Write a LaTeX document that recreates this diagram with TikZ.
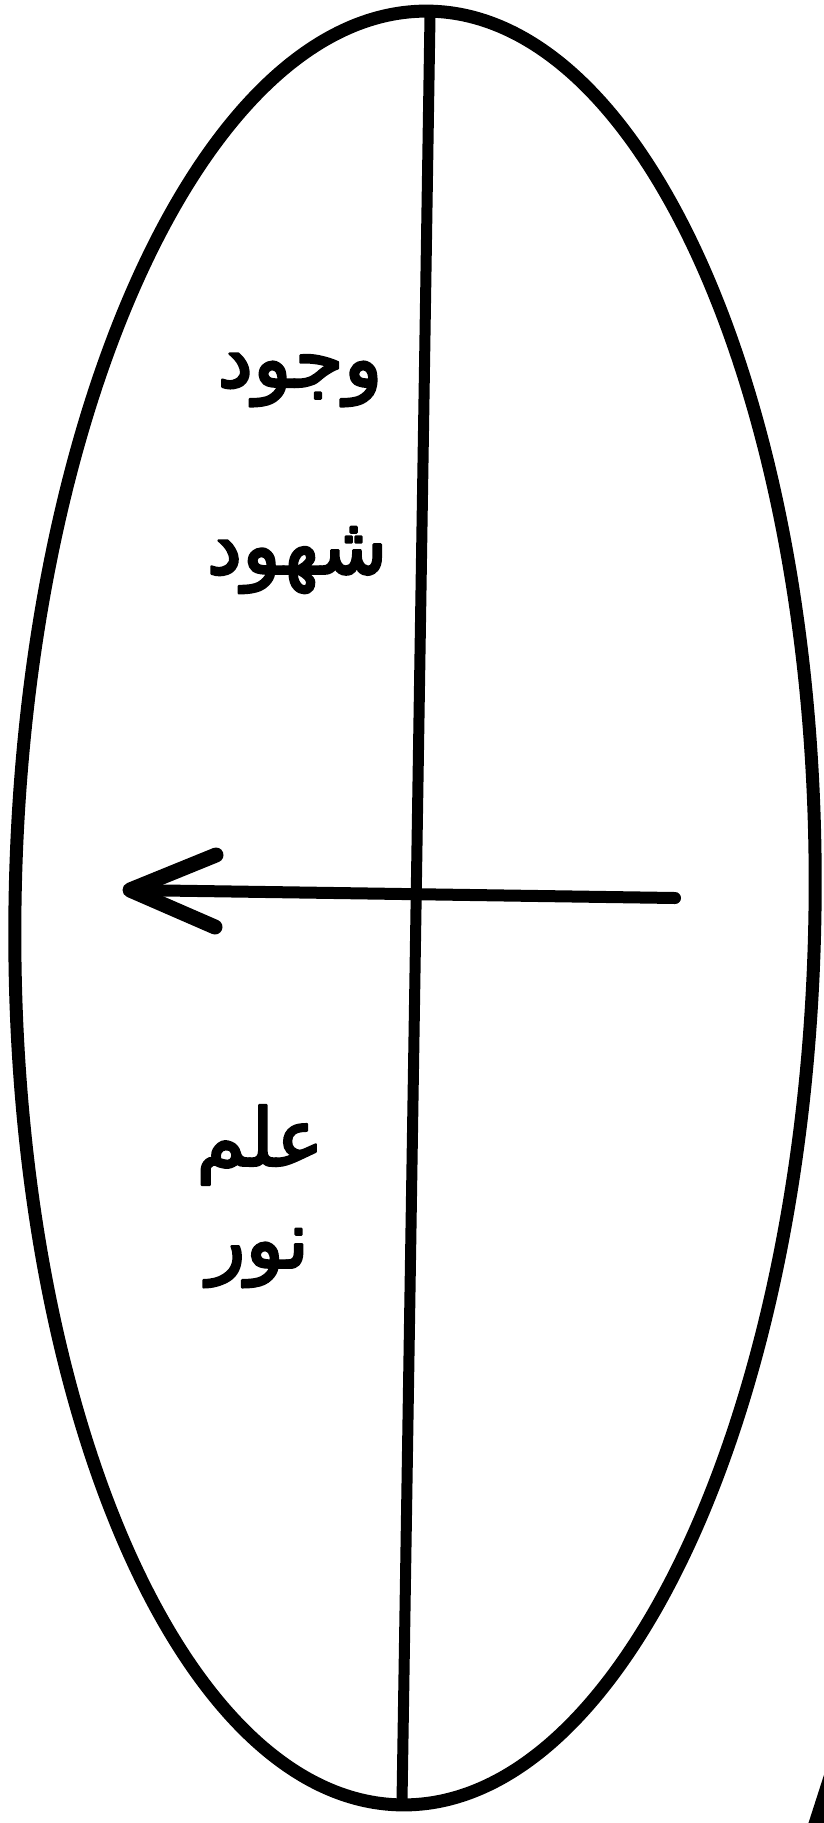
\documentclass[tikz,border=0pt]{standalone}
\usepackage{fontspec}
\newfontfamily\arabicfont[Script=Arabic,FakeBold=3]{DejaVu Sans}
\TeXXeTstate=1
\begin{document}
\begin{tikzpicture}[x=1pt,y=-1pt,line cap=round,line join=round,
  outline/.style={line width=13pt},
  axisline/.style={line width=11pt},
  shaft/.style={line width=12pt},
  barb/.style={line width=15pt},
  lbl/.style={font=\arabicfont\fontsize{80}{90}\selectfont,inner sep=0pt}]
\useasboundingbox (0,0) rectangle (823,1823);
\fill[white] (0,0) rectangle (823,1823);
% ellipse
\draw[outline,rotate around={-0.9:(415,908)}] (415,908) ellipse [x radius=400pt, y radius=897pt];
% vertical axis
\coordinate (vt) at (430,16);
\coordinate (vb) at (402,1802);
\draw[axisline] (vt) -- (vb);
% arrow
\coordinate (ae) at (675,898);
\coordinate (at) at (130,890);
\coordinate (bu) at (216,855);
\coordinate (bl) at (215,927);
\draw[shaft] (ae) -- (at);
\draw[barb] (bu) -- (at) -- (bl);
% fragment at lower right
\coordinate (fa) at (842,1745);
\coordinate (fb) at (813,1835);
\draw[line width=16pt] (fa) -- (fb);
% labels
\node[lbl] (wujud) at (300,380) {\arabicfont\beginR وجود\endR};
\node[lbl] (shuhud) at (297,560) {\arabicfont\beginR شهود\endR};
\node[lbl] (ilm) at (260,1145) {\arabicfont\beginR علم\endR};
\node[lbl] (nur) at (258,1258) {\arabicfont\beginR نور\endR};
\end{tikzpicture}
\end{document}
